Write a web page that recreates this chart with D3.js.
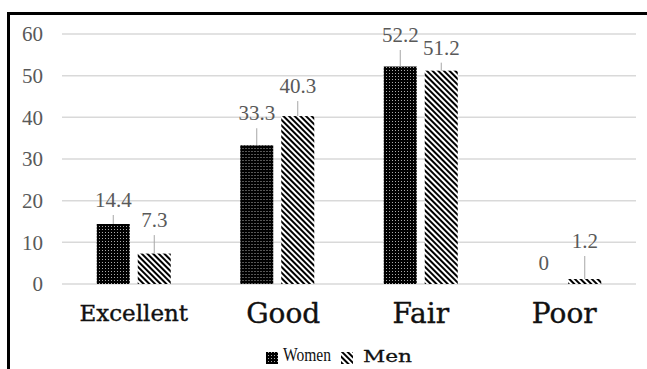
<!DOCTYPE html>
<html>
<head>
<meta charset="utf-8">
<script src="https://cdn.jsdelivr.net/npm/d3@7"></script>
<style>
  html, body { margin: 0; padding: 0; background: #fff; }
  svg { display: block; }
  .serif { font-family: 'Liberation Serif', 'Times New Roman', serif; }
  .cat { font-family: 'DejaVu Serif', serif; }
</style>
</head>
<body>
<svg id="chart" width="647" height="369"></svg>
<script>
// ---- data ----
const categories = ["Excellent", "Good", "Fair", "Poor"];
const seriesNames = ["Women", "Men"];
const women = [14.4, 33.3, 52.2, 0];
const men = [7.3, 40.3, 51.2, 1.2];
const yTicks = [0, 10, 20, 30, 40, 50, 60];

// label callout lift (px above bar top)
const womenLift = [17, 25, 24.5, 14];
const menLift = [26.5, 23, 16, 31];

const svg = d3.select("#chart");

// ---- patterns ----
const defs = svg.append("defs");
const pW = defs.append("pattern").attr("id", "patWomen")
  .attr("patternUnits", "userSpaceOnUse").attr("width", 3).attr("height", 3);
pW.append("rect").attr("width", 3).attr("height", 3).attr("fill", "#000");
pW.append("rect").attr("x", 1).attr("y", 1).attr("width", 1).attr("height", 1).attr("fill", "#aaa");

const pM = defs.append("pattern").attr("id", "patMen")
  .attr("patternUnits", "userSpaceOnUse").attr("width", 4).attr("height", 4)
  .attr("patternTransform", "rotate(-45)");
pM.append("rect").attr("width", 4).attr("height", 4).attr("fill", "#fff");
pM.append("rect").attr("width", 2).attr("height", 4).attr("fill", "#000");

const fills = { Women: "url(#patWomen)", Men: "url(#patMen)" };

// ---- scales ----
const x0 = d3.scaleBand().domain(categories).range([62, 636]).padding(0);
const x1 = d3.scaleBand().domain(seriesNames).range([0, x0.bandwidth()])
  .paddingInner(0.195).paddingOuter(0.8475);
const y = d3.scaleLinear().domain([0, 60]).range([284, 34]);

// ---- frame ----
svg.append("line").attr("x1", 8).attr("x2", 647).attr("y1", 13.5).attr("y2", 13.5)
  .attr("stroke", "#000").attr("stroke-width", 3);
svg.append("line").attr("x1", 8.5).attr("x2", 8.5).attr("y1", 12).attr("y2", 369)
  .attr("stroke", "#000").attr("stroke-width", 3);

// ---- gridlines ----
svg.append("g").selectAll("line").data(yTicks).join("line")
  .attr("x1", 62).attr("x2", 636)
  .attr("y1", d => y(d)).attr("y2", d => y(d))
  .attr("stroke", "#d9d9d9").attr("stroke-width", 1.5);

// ---- y axis ----
const yAxis = d3.axisLeft(y).tickValues(yTicks).tickSize(0).tickPadding(0).tickFormat(d3.format("d"));
const gy = svg.append("g").attr("transform", "translate(43,0)").call(yAxis);
gy.attr("font-family", null).attr("font-size", null);
gy.select(".domain").remove();
gy.selectAll("text").attr("class", "serif")
  .style("font-size", "21px").attr("fill", "#595959").attr("dy", "0.33em");

// ---- bars ----
const rows = categories.map((c, i) => ({
  cat: c,
  vals: [
    { s: "Women", v: women[i], lift: womenLift[i] },
    { s: "Men", v: men[i], lift: menLift[i] }
  ]
}));

const groups = svg.append("g").selectAll("g").data(rows).join("g")
  .attr("transform", d => `translate(${x0(d.cat)},0)`);

groups.selectAll("rect").data(d => d.vals).join("rect")
  .attr("x", d => x1(d.s))
  .attr("width", x1.bandwidth())
  .attr("y", d => y(d.v))
  .attr("height", d => y(0) - y(d.v))
  .attr("fill", d => fills[d.s]);

// leader lines
groups.selectAll("line.leader").data(d => d.vals.filter(v => v.v > 0)).join("line")
  .attr("class", "leader")
  .attr("x1", d => x1(d.s) + x1.bandwidth() / 2)
  .attr("x2", d => x1(d.s) + x1.bandwidth() / 2)
  .attr("y1", d => y(d.v) - d.lift + 8)
  .attr("y2", d => y(d.v))
  .attr("stroke", "#a6a6a6").attr("stroke-width", 1);

// value labels
groups.selectAll("text.val").data(d => d.vals).join("text")
  .attr("class", "val serif")
  .attr("x", d => x1(d.s) + x1.bandwidth() / 2)
  .attr("y", d => y(d.v) - d.lift)
  .attr("text-anchor", "middle")
  .style("font-size", "21px").attr("fill", "#595959")
  .text(d => d.v);

// ---- category labels ----
svg.append("g").selectAll("text").data(categories).join("text")
  .attr("class", "cat")
  .attr("x", d => x0(d) + x0.bandwidth() / 2 + (d === "Good" ? 6 : 0))
  .attr("y", (d, i) => i === 0 ? 321 : 323)
  .attr("text-anchor", "middle")
  .style("font-size", (d, i) => i === 0 ? "23px" : "28px")
  .attr("fill", "#111").attr("stroke", "#111").attr("stroke-width", 0.4)
  .text(d => d);

// ---- legend ----
const leg = svg.append("g");
leg.append("rect").attr("x", 266).attr("y", 352).attr("width", 12).attr("height", 12).attr("fill", fills.Women);
leg.append("text").attr("class", "serif").attr("x", 283).attr("y", 361)
  .style("font-size", "18px")
  .attr("textLength", 48).attr("lengthAdjust", "spacingAndGlyphs")
  .attr("fill", "#111").text(seriesNames[0]);
leg.append("rect").attr("x", 341).attr("y", 352).attr("width", 12).attr("height", 12).attr("fill", fills.Men);
leg.append("text").attr("class", "cat").attr("x", 363).attr("y", 362)
  .style("font-size", "17px")
  .attr("textLength", 49).attr("lengthAdjust", "spacingAndGlyphs")
  .attr("fill", "#111").attr("stroke", "#111").attr("stroke-width", 0.3)
  .text(seriesNames[1]);
</script>
</body>
</html>
